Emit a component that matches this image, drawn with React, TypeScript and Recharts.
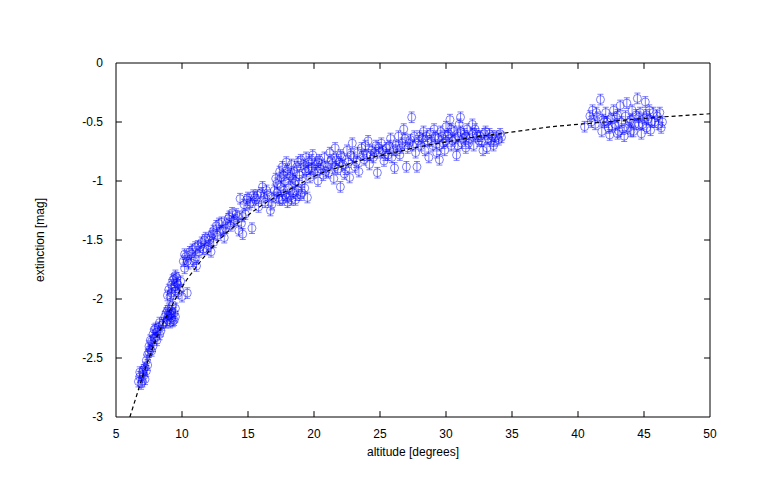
import React from 'react';
import { ComposedChart, Scatter, ErrorBar, XAxis, YAxis, Label, ReferenceLine } from 'recharts';

// [altitude, extinction] pairs, grouped by altitude band
const lowAlt: [number, number][] = [
  [6.7, -2.7], [6.8, -2.66], [6.9, -2.72], [7.0, -2.62], [7.1, -2.65], [7.2, -2.58], [7.2, -2.68], [7.3, -2.61],
  [7.4, -2.56], [7.5, -2.45], [7.5, -2.4], [7.6, -2.43], [7.7, -2.36], [7.8, -2.3], [7.8, -2.4], [7.9, -2.26],
  [8.0, -2.33], [8.1, -2.28], [8.2, -2.24], [8.3, -2.3], [8.3, -2.2], [8.5, -2.22],
  [8.7, -2.15], [8.8, -2.12], [8.9, -2.18], [9.0, -2.08], [9.0, -2.14], [9.1, -2.2], [9.2, -2.1], [9.2, -2.16],
  [9.3, -2.05], [9.4, -2.12], [9.4, -2.18], [9.5, -2.08], [8.9, -1.97], [9.0, -1.92], [9.1, -1.98], [9.2, -1.88],
  [9.3, -1.84], [9.4, -1.9], [9.5, -1.8], [9.6, -1.86], [9.7, -1.95], [9.8, -1.92], [10.0, -1.98], [10.4, -1.95],
  [10.1, -1.68], [10.2, -1.74], [10.3, -1.64], [10.5, -1.7], [10.7, -1.62], [10.8, -1.58], [11.0, -1.66], [11.1, -1.72],
  [11.2, -1.55], [11.3, -1.6], [11.5, -1.52], [11.6, -1.58], [11.8, -1.48], [12.0, -1.55], [12.1, -1.5], [12.2, -1.6],
  [12.3, -1.45], [12.4, -1.52],
  [6.8, -2.62], [7.0, -2.7], [7.1, -2.6], [7.3, -2.52], [7.4, -2.47], [7.6, -2.35], [7.7, -2.44], [7.9, -2.33],
  [8.0, -2.25], [8.1, -2.35], [8.4, -2.27], [8.6, -2.2], [8.8, -2.2], [8.9, -2.1], [9.1, -2.13], [9.3, -2.19],
  [9.5, -2.15], [9.2, -1.95], [9.4, -1.83], [9.5, -1.93], [9.6, -1.82], [9.7, -1.88], [9.9, -1.85], [10.2, -1.62],
  [10.4, -1.68], [10.6, -1.6], [10.9, -1.68], [11.0, -1.56], [11.4, -1.56], [11.7, -1.5], [11.9, -1.58], [12.2, -1.47],
  [12.4, -1.42],
];

const midAlt: [number, number][] = [
  [12.6, -1.38], [12.7, -1.46], [12.9, -1.42], [13.0, -1.35], [13.2, -1.48], [13.3, -1.4], [13.5, -1.32], [13.7, -1.38],
  [13.8, -1.27], [14.0, -1.33], [14.2, -1.3], [14.3, -1.42], [14.4, -1.15], [14.5, -1.36], [14.6, -1.45], [14.7, -1.2],
  [14.8, -1.28], [15.0, -1.14], [15.2, -1.18], [15.3, -1.4], [15.4, -1.12], [15.6, -1.16], [15.8, -1.22], [16.0, -1.1],
  [16.1, -1.05], [16.3, -1.18], [16.5, -1.12], [16.7, -1.25], [16.8, -1.2], [17.0, -1.08], [17.1, -0.98], [17.2, -1.02],
  [17.3, -1.14], [17.4, -0.92], [17.5, -1.05], [17.6, -0.88], [17.6, -1.16], [17.7, -0.95], [17.8, -1.0], [17.8, -1.12],
  [17.9, -0.84], [18.0, -0.9], [18.0, -1.18], [18.1, -1.06], [18.2, -0.96], [18.2, -1.13], [18.3, -0.86], [18.4, -1.1],
  [18.5, -1.02], [18.5, -0.92], [18.6, -1.16], [18.7, -0.88], [18.8, -1.08], [18.9, -0.95], [19.0, -0.82], [19.0, -1.12],
  [19.1, -1.0], [19.2, -0.86], [19.3, -1.06], [19.4, -0.8], [19.4, -0.92], [19.5, -1.14],
  [19.6, -0.84], [19.7, -0.97], [19.8, -0.89], [19.9, -0.78], [20.0, -0.93], [20.2, -0.86], [20.3, -1.0], [20.4, -0.82],
  [20.5, -0.9], [20.7, -0.95], [20.8, -0.8], [21.0, -0.88], [21.1, -0.93], [21.2, -0.76], [21.4, -0.85], [21.5, -0.98],
  [21.6, -0.72], [21.7, -0.82], [21.8, -0.9], [22.0, -1.05], [22.0, -0.78], [22.2, -0.86], [22.3, -0.94], [22.5, -0.74],
  [22.6, -0.84], [22.7, -0.97], [22.9, -0.68], [23.0, -0.8], [23.1, -0.88], [23.3, -0.76], [23.4, -0.92],
  [12.8, -1.36], [13.1, -1.42], [13.4, -1.36], [13.6, -1.3], [13.9, -1.34], [14.1, -1.28], [14.6, -1.3], [14.9, -1.16],
  [15.1, -1.2], [15.5, -1.14], [15.7, -1.12], [16.2, -1.14], [16.4, -1.08], [16.9, -1.14], [17.2, -1.1], [17.4, -1.16],
  [17.5, -0.97], [17.7, -1.08], [17.9, -1.14], [18.1, -0.94], [18.3, -1.16], [18.4, -0.98], [18.6, -1.0], [18.7, -1.12],
  [18.8, -0.84], [19.1, -1.1], [19.3, -0.9], [19.6, -0.9], [19.8, -0.82], [20.1, -0.9], [20.3, -0.84], [20.6, -0.86],
  [20.9, -0.92], [21.3, -0.82], [21.6, -0.88], [21.9, -0.84], [22.1, -0.8], [22.4, -0.9], [22.8, -0.78], [23.2, -0.84],
];

const upperAlt: [number, number][] = [
  [23.6, -0.72], [23.8, -0.82], [24.0, -0.78], [24.1, -0.66], [24.2, -0.86], [24.4, -0.74], [24.5, -0.8], [24.7, -0.7],
  [24.8, -0.93], [25.0, -0.76], [25.1, -0.68], [25.3, -0.83], [25.5, -0.72], [25.6, -0.78], [25.8, -0.64], [26.0, -0.74],
  [26.1, -0.89], [26.2, -0.7], [26.4, -0.62], [26.5, -0.78], [26.7, -0.68], [26.8, -0.56], [27.0, -0.88], [27.1, -0.72],
  [27.3, -0.65], [27.4, -0.46], [27.5, -0.7], [27.7, -0.76], [27.8, -0.88], [28.0, -0.62], [28.1, -0.7], [28.3, -0.58],
  [28.4, -0.74], [28.6, -0.66], [28.7, -0.8], [28.8, -0.6], [29.0, -0.7], [29.1, -0.56], [29.3, -0.76], [29.4, -0.64],
  [29.5, -0.82], [29.6, -0.58], [29.8, -0.68], [29.9, -0.74], [30.0, -0.54], [30.1, -0.62], [30.3, -0.48], [30.4, -0.7],
  [30.5, -0.66], [30.6, -0.58], [30.8, -0.78], [30.9, -0.62], [31.0, -0.52], [31.1, -0.46], [31.2, -0.68], [31.4, -0.6],
  [31.5, -0.72], [31.6, -0.56], [31.8, -0.64], [32.0, -0.52], [32.1, -0.7], [32.3, -0.6], [32.5, -0.66], [32.6, -0.62],
  [32.8, -0.74], [33.0, -0.58], [33.1, -0.72], [33.3, -0.6], [33.4, -0.66], [33.6, -0.7], [33.8, -0.62], [34.0, -0.65],
  [34.2, -0.63],
  [23.7, -0.78], [23.9, -0.7], [24.3, -0.78], [24.6, -0.76], [24.9, -0.72], [25.2, -0.74], [25.4, -0.78], [25.7, -0.7],
  [25.9, -0.8], [26.3, -0.74], [26.6, -0.72], [26.9, -0.64], [27.2, -0.68], [27.6, -0.62], [27.9, -0.66], [28.2, -0.64],
  [28.5, -0.62], [28.9, -0.66], [29.2, -0.62], [29.5, -0.7], [29.7, -0.62], [30.0, -0.66], [30.2, -0.6], [30.4, -0.56],
  [30.7, -0.64], [30.9, -0.7], [31.1, -0.58], [31.3, -0.64], [31.5, -0.62], [31.7, -0.68], [32.0, -0.6], [32.2, -0.56],
  [32.4, -0.62], [32.7, -0.66], [32.9, -0.6], [33.2, -0.64], [33.5, -0.62], [33.7, -0.66], [34.1, -0.6],
];

const highAlt: [number, number][] = [
  [40.5, -0.54], [40.9, -0.45], [41.1, -0.4], [41.3, -0.52], [41.5, -0.46], [41.7, -0.31], [41.8, -0.58], [42.0, -0.5],
  [42.1, -0.42], [42.3, -0.55], [42.4, -0.61], [42.5, -0.47], [42.7, -0.4], [42.8, -0.52], [43.0, -0.44], [43.1, -0.58],
  [43.2, -0.36], [43.3, -0.5], [43.5, -0.62], [43.6, -0.45], [43.7, -0.34], [43.8, -0.55], [44.0, -0.48], [44.1, -0.4],
  [44.2, -0.58], [44.4, -0.44], [44.5, -0.3], [44.6, -0.52], [44.7, -0.42], [44.8, -0.6], [45.0, -0.47], [45.1, -0.33],
  [45.2, -0.55], [45.3, -0.48], [45.4, -0.4], [45.5, -0.57], [45.7, -0.42], [45.8, -0.5], [46.0, -0.45], [46.2, -0.42],
  [46.3, -0.55], [46.4, -0.5],
  [41.0, -0.5], [41.4, -0.42], [41.9, -0.48], [42.2, -0.5], [42.6, -0.54], [42.9, -0.46], [43.4, -0.56], [43.9, -0.5],
  [44.3, -0.52], [44.9, -0.52], [45.6, -0.5], [46.1, -0.52], [43.0, -0.6], [44.0, -0.58], [44.6, -0.46], [45.2, -0.44],
];

// fitted curve
const fitCurve: [number, number][] = [
  [6.05, -3.0], [6.5, -2.84], [7, -2.66], [7.5, -2.5], [8, -2.35], [8.5, -2.22], [9, -2.11], [9.5, -2.0],
  [10, -1.9], [11, -1.74], [12, -1.6], [13, -1.48], [14, -1.38], [15, -1.29], [16, -1.21], [17, -1.14],
  [18, -1.08], [19, -1.02], [20, -0.96], [22, -0.88], [24, -0.81], [26, -0.76], [28, -0.71], [30, -0.67],
  [32, -0.63], [34, -0.6], [36, -0.57], [38, -0.54], [40, -0.52], [42, -0.5], [44, -0.48], [46, -0.46],
  [48, -0.445], [50, -0.43],
];

const ERR = 0.045;
const xTicks = [5, 10, 15, 20, 25, 30, 35, 40, 45, 50];
const yTicks = [0, -0.5, -1, -1.5, -2, -2.5, -3];
// inward tick length in data units (~6px)
const X_TICK_LEN = 0.05;
const Y_TICK_LEN = 0.45;

const points = [...lowAlt, ...midAlt, ...upperAlt, ...highAlt].map(([alt, ext]) => ({ alt, ext, err: ERR }));
const fit = fitCurve.map(([alt, ext]) => ({ alt, ext }));

const BLUE = '#0000ff';
const font = { fontFamily: 'Liberation Sans, Arial, sans-serif', fontSize: 12, fill: '#000' };

const Ring = (props: any) => (
  <circle cx={props.cx} cy={props.cy} r={4} fill="none" stroke={BLUE} strokeOpacity={0.5} strokeWidth={1} />
);

const App: React.FC = () => {
  return (
    <div style={{ position: 'absolute', left: 0, top: 0, width: 762, height: 477, background: '#fff' }}>
      <ComposedChart width={762} height={477} margin={{ top: 62, right: 51, bottom: 0, left: 0 }}>
        <XAxis
          xAxisId="main"
          dataKey="alt"
          type="number"
          domain={[5, 50]}
          ticks={xTicks}
          allowDataOverflow
          height={60}
          stroke="#000"
          tickLine={false}
          tickMargin={6}
          tick={font}
          label={
            <Label
              position="insideBottom"
              content={({ viewBox }: any) => (
                <text x={viewBox.x + viewBox.width / 2} y={456} textAnchor="middle" {...font}>
                  altitude [degrees]
                </text>
              )}
            />
          }
        />
        <XAxis
          xAxisId="top"
          orientation="top"
          dataKey="alt"
          type="number"
          domain={[5, 50]}
          ticks={xTicks}
          allowDataOverflow
          height={1}
          stroke="#000"
          tickLine={false}
          tickFormatter={() => ''}
        />
        <YAxis
          yAxisId="main"
          type="number"
          domain={[-3, 0]}
          ticks={yTicks}
          allowDataOverflow
          width={116}
          stroke="#000"
          tickLine={false}
          tickMargin={7}
          tick={font}
          label={
            <Label
              position="insideLeft"
              content={({ viewBox }: any) => (
                <text
                  x={44}
                  y={viewBox.y + viewBox.height / 2}
                  textAnchor="middle"
                  transform={`rotate(-90, 44, ${viewBox.y + viewBox.height / 2})`}
                  {...font}
                >
                  extinction [mag]
                </text>
              )}
            />
          }
        />
        <YAxis
          yAxisId="right"
          orientation="right"
          type="number"
          domain={[-3, 0]}
          ticks={yTicks}
          allowDataOverflow
          width={1}
          stroke="#000"
          tickLine={false}
          tickFormatter={() => ''}
        />
        {xTicks.slice(1, -1).map((t) => (
          <ReferenceLine
            key={`xb${t}`}
            xAxisId="main"
            yAxisId="main"
            segment={[{ x: t, y: -3 }, { x: t, y: -3 + X_TICK_LEN }]}
            stroke="#000"
          />
        ))}
        {xTicks.slice(1, -1).map((t) => (
          <ReferenceLine
            key={`xt${t}`}
            xAxisId="main"
            yAxisId="main"
            segment={[{ x: t, y: 0 }, { x: t, y: -X_TICK_LEN }]}
            stroke="#000"
          />
        ))}
        {yTicks.slice(1, -1).map((t) => (
          <ReferenceLine
            key={`yl${t}`}
            xAxisId="main"
            yAxisId="main"
            segment={[{ x: 5, y: t }, { x: 5 + Y_TICK_LEN, y: t }]}
            stroke="#000"
          />
        ))}
        {yTicks.slice(1, -1).map((t) => (
          <ReferenceLine
            key={`yr${t}`}
            xAxisId="main"
            yAxisId="main"
            segment={[{ x: 50 - Y_TICK_LEN, y: t }, { x: 50, y: t }]}
            stroke="#000"
          />
        ))}
        <Scatter
          xAxisId="main"
          yAxisId="main"
          data={points}
          dataKey="ext"
          shape={Ring}
          isAnimationActive={false}
        >
          <ErrorBar dataKey="err" direction="y" width={3} stroke={BLUE} strokeOpacity={0.5} strokeWidth={1} isAnimationActive={false} />
        </Scatter>
        <Scatter
          xAxisId="main"
          yAxisId="main"
          data={fit}
          dataKey="ext"
          line={{ stroke: '#000', strokeWidth: 1.2, strokeDasharray: '4 3' }}
          lineJointType="monotoneX"
          shape={() => <g />}
          isAnimationActive={false}
        />
      </ComposedChart>
    </div>
  );
};

export default App;
